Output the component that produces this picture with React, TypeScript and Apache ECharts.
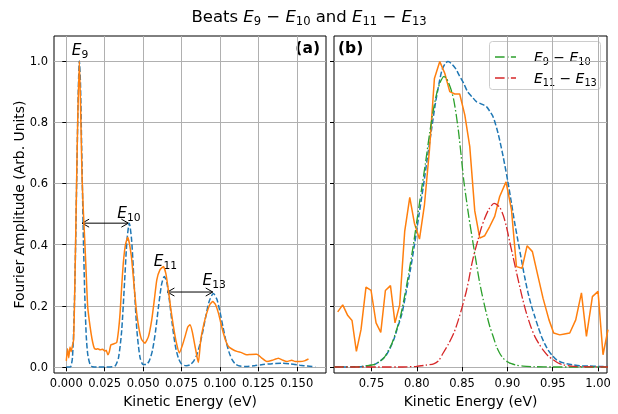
import React, { useEffect, useRef } from 'react';
import * as echarts from 'echarts';

// ---------- Panel (a) ----------
const aModelX = [0, 0.002, 0.003, 0.004, 0.005, 0.006, 0.007, 0.0078, 0.0085, 0.0092, 0.01, 0.011, 0.012, 0.013, 0.014, 0.0155, 0.017, 0.02, 0.025, 0.03, 0.032, 0.034, 0.036, 0.038, 0.0395, 0.041, 0.0425, 0.044, 0.046, 0.048, 0.05, 0.052, 0.054, 0.056, 0.058, 0.06, 0.062, 0.0638, 0.0655, 0.067, 0.069, 0.071, 0.073, 0.075, 0.078, 0.0805, 0.083, 0.085, 0.087, 0.089, 0.091, 0.093, 0.0957, 0.098, 0.1, 0.102, 0.104, 0.106, 0.108, 0.11, 0.113, 0.117, 0.122, 0.128, 0.134, 0.14, 0.146, 0.152, 0.157, 0.162];
const aModelY = [0, 0, 0.002, 0.03, 0.15, 0.38, 0.68, 0.9, 1.0, 0.93, 0.72, 0.45, 0.24, 0.1, 0.04, 0.008, 0.001, 0, 0, 0.001, 0.005, 0.031, 0.116, 0.285, 0.415, 0.47, 0.415, 0.285, 0.116, 0.031, 0.008, 0.008, 0.02, 0.053, 0.114, 0.197, 0.27, 0.296, 0.273, 0.222, 0.138, 0.068, 0.028, 0.01, 0.004, 0.007, 0.02, 0.041, 0.075, 0.12, 0.171, 0.215, 0.24, 0.221, 0.18, 0.13, 0.083, 0.047, 0.023, 0.01, 0.003, 0.002, 0.004, 0.008, 0.011, 0.012, 0.01, 0.006, 0.003, 0.001];

const aExpX = [0, 0.0008, 0.0016, 0.0024, 0.0032, 0.004, 0.0048, 0.0055, 0.0062, 0.0068, 0.0075, 0.0085, 0.0093, 0.0102, 0.011, 0.012, 0.013, 0.0139, 0.015, 0.0161, 0.0172, 0.0182, 0.0195, 0.0205, 0.022, 0.0237, 0.025, 0.026, 0.027, 0.028, 0.029, 0.0306, 0.0328, 0.034, 0.035, 0.036, 0.0371, 0.0385, 0.04, 0.0412, 0.0426, 0.0442, 0.0458, 0.0475, 0.0491, 0.0512, 0.0535, 0.0556, 0.0573, 0.0589, 0.061, 0.0632, 0.0648, 0.0664, 0.068, 0.0697, 0.0716, 0.0736, 0.0755, 0.0773, 0.079, 0.0805, 0.082, 0.0838, 0.0852, 0.086, 0.0875, 0.0895, 0.0914, 0.0935, 0.0953, 0.097, 0.099, 0.1005, 0.1022, 0.1038, 0.1055, 0.108, 0.111, 0.114, 0.1174, 0.12, 0.124, 0.127, 0.1305, 0.134, 0.138, 0.141, 0.1435, 0.1467, 0.149, 0.152, 0.155, 0.1576];
const aExpY = [0.02, 0.06, 0.03, 0.065, 0.05, 0.07, 0.09, 0.25, 0.45, 0.633, 0.82, 1.0, 0.85, 0.63, 0.52, 0.415, 0.3, 0.198, 0.15, 0.111, 0.08, 0.062, 0.058, 0.06, 0.056, 0.058, 0.052, 0.055, 0.04, 0.05, 0.072, 0.075, 0.08, 0.12, 0.176, 0.26, 0.34, 0.4, 0.424, 0.4, 0.35, 0.26, 0.176, 0.12, 0.089, 0.078, 0.1, 0.154, 0.22, 0.285, 0.318, 0.328, 0.305, 0.252, 0.19, 0.133, 0.08, 0.046, 0.07, 0.1, 0.13, 0.138, 0.115, 0.067, 0.03, 0.015, 0.089, 0.14, 0.176, 0.205, 0.214, 0.205, 0.176, 0.145, 0.111, 0.085, 0.067, 0.058, 0.051, 0.047, 0.04, 0.041, 0.042, 0.03, 0.018, 0.022, 0.029, 0.022, 0.018, 0.022, 0.018, 0.018, 0.02, 0.026];

// ---------- Panel (b) ----------
const bModelX = [0.709, 0.72, 0.73, 0.74, 0.7525, 0.759, 0.7654, 0.77, 0.7746, 0.779, 0.7838, 0.788, 0.793, 0.7975, 0.8022, 0.807, 0.8114, 0.816, 0.8206, 0.8245, 0.8279, 0.8315, 0.8345, 0.838, 0.8427, 0.847, 0.8518, 0.856, 0.861, 0.8658, 0.871, 0.8769, 0.8805, 0.8842, 0.8897, 0.8953, 0.9008, 0.9045, 0.9081, 0.9118, 0.9155, 0.919, 0.9228, 0.9265, 0.9302, 0.934, 0.9376, 0.941, 0.9448, 0.95, 0.9541, 0.96, 0.9651, 0.972, 0.9798, 0.99, 1.0, 1.011];
const bModelY = [0, 0, 0.0005, 0.002, 0.0075, 0.018, 0.035, 0.058, 0.089, 0.13, 0.176, 0.24, 0.318, 0.4, 0.492, 0.585, 0.677, 0.77, 0.862, 0.925, 0.971, 0.992, 0.998, 0.992, 0.976, 0.952, 0.927, 0.9, 0.883, 0.867, 0.86, 0.851, 0.836, 0.818, 0.764, 0.688, 0.601, 0.535, 0.47, 0.41, 0.35, 0.295, 0.242, 0.2, 0.165, 0.13, 0.1, 0.077, 0.056, 0.036, 0.024, 0.015, 0.011, 0.007, 0.004, 0.003, 0.002, 0.002];

const bExpX = [0.7128, 0.7183, 0.7239, 0.7286, 0.7334, 0.7385, 0.744, 0.7496, 0.7551, 0.7603, 0.7654, 0.771, 0.776, 0.7812, 0.7867, 0.7923, 0.7974, 0.803, 0.8085, 0.814, 0.8195, 0.8254, 0.8309, 0.8364, 0.8419, 0.8474, 0.853, 0.8585, 0.864, 0.8695, 0.875, 0.8805, 0.886, 0.8915, 0.8985, 0.9045, 0.91, 0.9162, 0.9217, 0.9276, 0.9338, 0.9393, 0.9459, 0.9511, 0.9578, 0.963, 0.9688, 0.9754, 0.9817, 0.9872, 0.9938, 1.0, 1.0055, 1.011];
const bExpY = [0.18, 0.203, 0.168, 0.152, 0.051, 0.122, 0.261, 0.25, 0.144, 0.113, 0.25, 0.266, 0.144, 0.203, 0.443, 0.554, 0.47, 0.418, 0.53, 0.709, 0.943, 0.998, 0.96, 0.9, 0.892, 0.892, 0.824, 0.72, 0.51, 0.421, 0.429, 0.459, 0.492, 0.557, 0.605, 0.514, 0.328, 0.323, 0.396, 0.377, 0.296, 0.225, 0.154, 0.111, 0.105, 0.108, 0.111, 0.154, 0.242, 0.1, 0.23, 0.247, 0.04, 0.122];

const bE9X = [0.709, 0.73, 0.74, 0.7525, 0.758, 0.7636, 0.768, 0.7727, 0.777, 0.782, 0.7865, 0.7912, 0.7958, 0.8003, 0.805, 0.8096, 0.814, 0.8187, 0.8225, 0.8261, 0.8298, 0.8325, 0.8353, 0.838, 0.8408, 0.8435, 0.8463, 0.849, 0.8518, 0.8546, 0.8574, 0.8621, 0.8657, 0.8695, 0.875, 0.8805, 0.8845, 0.8879, 0.8915, 0.8952, 0.9, 0.9045, 0.91, 0.9173, 0.93, 0.95, 1.011];
const bE9Y = [0, 0.0005, 0.002, 0.0075, 0.016, 0.029, 0.05, 0.078, 0.115, 0.165, 0.23, 0.307, 0.39, 0.481, 0.575, 0.666, 0.76, 0.846, 0.9, 0.932, 0.949, 0.945, 0.927, 0.905, 0.873, 0.825, 0.764, 0.69, 0.611, 0.55, 0.492, 0.405, 0.34, 0.274, 0.198, 0.133, 0.098, 0.067, 0.045, 0.029, 0.017, 0.011, 0.006, 0.003, 0.001, 0, 0];

const bE11X = [0.709, 0.78, 0.7996, 0.81, 0.8187, 0.824, 0.829, 0.835, 0.8408, 0.8455, 0.85, 0.8545, 0.8574, 0.8603, 0.8629, 0.8676, 0.8713, 0.875, 0.8795, 0.8853, 0.8915, 0.8955, 0.8989, 0.9025, 0.9062, 0.91, 0.9136, 0.917, 0.921, 0.9255, 0.9302, 0.935, 0.9393, 0.945, 0.9504, 0.956, 0.9614, 0.97, 0.98, 1.011];
const bE11Y = [0, 0, 0.002, 0.006, 0.01, 0.02, 0.045, 0.075, 0.11, 0.15, 0.195, 0.245, 0.285, 0.33, 0.365, 0.416, 0.455, 0.486, 0.515, 0.535, 0.522, 0.495, 0.459, 0.41, 0.361, 0.31, 0.263, 0.22, 0.176, 0.135, 0.1, 0.075, 0.056, 0.036, 0.024, 0.013, 0.0075, 0.003, 0.001, 0];

// ---------- Ticks ----------
const aTicksX = [0, 0.025, 0.05, 0.075, 0.1, 0.125, 0.15];
const bTicksX = [0.75, 0.8, 0.85, 0.9, 0.95, 1.0];
const yTicks = [0, 0.2, 0.4, 0.6, 0.8, 1.0];

// ---------- Annotations (data coordinates) ----------
const peakLabelX = [0.0089, 0.0408, 0.0645, 0.0962];
const peakLabelY = [1.036, 0.504, 0.348, 0.285];
const peakLabelSub = ['9', '10', '11', '13'];
const arrowX1 = [0.0103, 0.0658];
const arrowX2 = [0.0404, 0.0953];
const arrowY = [0.47, 0.245];

const FONT = 'DejaVu Sans';
const zip = (xs: number[], ys: number[]) => xs.map((x, i) => [x, ys[i]]);

const mathRich = (size: number) => {
  const lh = Math.round(size * 1.35);
  return {
    n: { fontFamily: FONT, fontWeight: 'normal', fontSize: size, lineHeight: lh, color: '#000', verticalAlign: 'middle' },
    e: { fontFamily: FONT, fontWeight: 'normal', fontStyle: 'italic', fontSize: size, lineHeight: lh, color: '#000', verticalAlign: 'middle' },
    s: { fontFamily: FONT, fontWeight: 'normal', fontSize: size * 0.7, lineHeight: Math.round(size * 0.62), color: '#000', verticalAlign: 'bottom' },
  };
};

const xAxisCfg = (gridIndex: number, min: number, max: number, ticks: number[], digits: number) => ({
  type: 'value',
  gridIndex,
  min,
  max,
  axisLine: { show: false },
  axisTick: { show: true, customValues: ticks, length: 4, lineStyle: { color: '#000', width: 1 } },
  axisLabel: {
    show: true,
    customValues: ticks,
    formatter: (v: number) => v.toFixed(digits),
    fontSize: 11.5,
    color: '#000',
    margin: 4,
    fontFamily: FONT,
  },
  splitLine: { show: true, lineStyle: { color: '#b0b0b0', width: 1 } },
  name: 'Kinetic Energy (eV)',
  nameLocation: 'middle',
  nameGap: 19,
  nameTextStyle: { fontSize: 13.9, color: '#000', fontFamily: FONT },
});

const yAxisCfg = (gridIndex: number, showLabels: boolean) => ({
  type: 'value',
  gridIndex,
  min: -0.0196,
  max: 1.0816,
  axisLine: { show: false },
  axisTick: { show: true, customValues: yTicks, length: 4, lineStyle: { color: '#000', width: 1 } },
  axisLabel: {
    show: showLabels,
    customValues: yTicks,
    formatter: (v: number) => v.toFixed(1),
    fontSize: 11.5,
    color: '#000',
    margin: 6,
    fontFamily: FONT,
  },
  splitLine: { show: true, lineStyle: { color: '#b0b0b0', width: 1 } },
  name: showLabels ? 'Fourier Amplitude (Arb. Units)' : '',
  nameLocation: 'middle',
  nameGap: 26,
  nameTextStyle: { fontSize: 13.9, color: '#000', fontFamily: FONT },
});

const lineSeries = (xi: number, data: number[][], color: string, type: any, width: number, smooth: number | boolean) => ({
  type: 'line',
  xAxisIndex: xi,
  yAxisIndex: xi,
  data,
  showSymbol: false,
  symbol: 'none',
  smooth,
  clip: true,
  lineStyle: { color, width, type },
  silent: true,
});

export default function App() {
  const ref = useRef<HTMLDivElement>(null);
  useEffect(() => {
    if (!ref.current) return;
    const chart = echarts.init(ref.current, null, { renderer: 'svg' });
    const dashed = [5.5, 2.4];
    const dashDot = [9.6, 2.4, 1.5, 2.4];
    const legendRich = mathRich(13.9);
    chart.setOption({
      animation: false,
      textStyle: { fontFamily: FONT },
      title: {
        text: 'Beats {e|E}{s|9}{n| − }{e|E}{s|10}{n| and }{e|E}{s|11}{n| − }{e|E}{s|13}',
        left: 'center',
        top: 0,
        textStyle: { color: '#000', fontWeight: 'normal', fontSize: 16.5, rich: mathRich(16.5) },
      },
      grid: [
        { left: 54, top: 36, width: 272, height: 337, show: true, borderColor: '#000', borderWidth: 1, backgroundColor: 'transparent' },
        { left: 334, top: 36, width: 273, height: 337, show: true, borderColor: '#000', borderWidth: 1, backgroundColor: 'transparent' },
      ],
      xAxis: [xAxisCfg(0, -0.008, 0.169, aTicksX, 3), xAxisCfg(1, 0.7087, 1.0099, bTicksX, 2)],
      yAxis: [yAxisCfg(0, true), yAxisCfg(1, false)],
      series: [
        lineSeries(0, zip(aModelX, aModelY), '#1f77b4', dashed, 1.5, 0.25),
        lineSeries(0, zip(aExpX, aExpY), '#ff7f0e', 'solid', 1.5, 0.15),
        lineSeries(1, zip(bModelX, bModelY), '#1f77b4', dashed, 1.5, 0.25),
        lineSeries(1, zip(bExpX, bExpY), '#ff7f0e', 'solid', 1.5, false),
        lineSeries(1, zip(bE9X, bE9Y), '#2ca02c', dashDot, 1.3, 0.25),
        lineSeries(1, zip(bE11X, bE11Y), '#d62728', dashDot, 1.3, 0.25),
        {
          type: 'custom',
          xAxisIndex: 0,
          yAxisIndex: 0,
          silent: true,
          data: arrowX1.map((x, i) => [x, arrowY[i], arrowX2[i]]),
          renderItem: (params: any, api: any) => {
            const p1 = api.coord([api.value(0), api.value(1)]);
            const p2 = api.coord([api.value(2), api.value(1)]);
            const hl = 7, hw = 4;
            const st = { stroke: '#000', lineWidth: 1, fill: 'none' };
            return {
              type: 'group',
              children: [
                { type: 'line', shape: { x1: p1[0], y1: p1[1], x2: p2[0], y2: p2[1] }, style: st },
                { type: 'polyline', shape: { points: [[p1[0] + hl, p1[1] - hw], [p1[0], p1[1]], [p1[0] + hl, p1[1] + hw]] }, style: st },
                { type: 'polyline', shape: { points: [[p2[0] - hl, p2[1] - hw], [p2[0], p2[1]], [p2[0] - hl, p2[1] + hw]] }, style: st },
              ],
            };
          },
        },
        {
          type: 'custom',
          xAxisIndex: 0,
          yAxisIndex: 0,
          silent: true,
          data: peakLabelX.map((x, i) => [x, peakLabelY[i]]),
          renderItem: (params: any, api: any) => {
            const p = api.coord([api.value(0), api.value(1)]);
            return {
              type: 'text',
              x: p[0],
              y: p[1],
              style: {
                text: '{e|E}{s|' + peakLabelSub[params.dataIndex] + '}',
                rich: mathRich(15.3),
                align: 'center',
                verticalAlign: 'middle',
              },
            };
          },
        },
      ],
      graphic: [
        { type: 'text', right: 618 - 320, top: 40, style: { text: '(a)', font: 'bold 15.5px "DejaVu Sans"', fill: '#000' } },
        { type: 'text', left: 338, top: 40, style: { text: '(b)', font: 'bold 15.5px "DejaVu Sans"', fill: '#000' } },
        {
          type: 'group',
          left: 489,
          top: 41,
          children: [
            { type: 'rect', shape: { x: 0.5, y: 0.5, width: 111, height: 48, r: 3 }, style: { fill: 'rgba(255,255,255,0.8)', stroke: '#cccccc', lineWidth: 1 } },
            { type: 'line', shape: { x1: 6, y1: 16, x2: 27, y2: 16 }, style: { stroke: '#2ca02c', lineWidth: 1.3, lineDash: dashDot } },
            { type: 'text', x: 45, y: 16, style: { text: '{e|E}{s|9}{n| − }{e|E}{s|10}', rich: legendRich, verticalAlign: 'middle' } },
            { type: 'line', shape: { x1: 6, y1: 37, x2: 27, y2: 37 }, style: { stroke: '#d62728', lineWidth: 1.3, lineDash: dashDot } },
            { type: 'text', x: 45, y: 37, style: { text: '{e|E}{s|11}{n| − }{e|E}{s|13}', rich: legendRich, verticalAlign: 'middle' } },
          ],
        },
      ],
    });
    return () => chart.dispose();
  }, []);
  return <div ref={ref} style={{ position: 'fixed', left: 0, top: 0, width: 618, height: 414 }} />;
}
